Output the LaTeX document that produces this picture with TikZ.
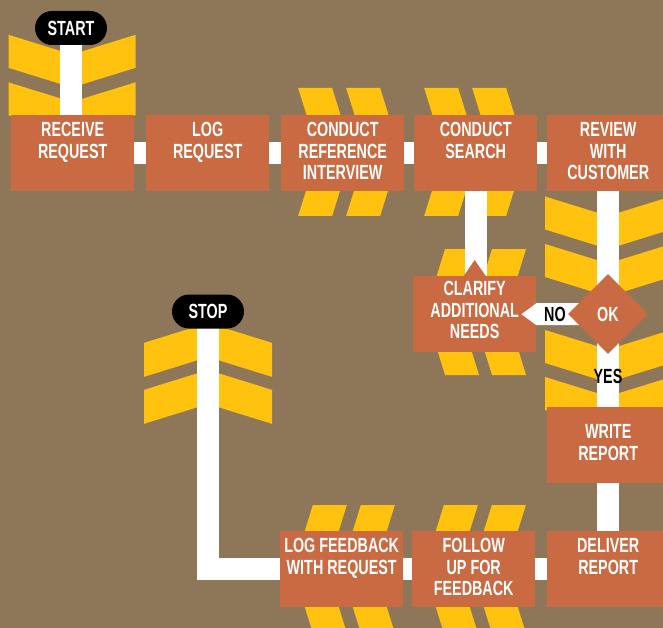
\documentclass[tikz,border=0pt]{standalone}
\usepackage{fontspec}
\newfontfamily\cond{Liberation Sans}[FakeStretch=0.7]
\usetikzlibrary{shapes.geometric}
\definecolor{bgc}{HTML}{8E7759}
\definecolor{boxc}{HTML}{C96A42}
\definecolor{chevc}{HTML}{FEC20F}
\pgfdeclarelayer{chevs}
\pgfdeclarelayer{bars}
\pgfsetlayers{chevs,bars,main}
\newcommand\chevD[3]{\fill[chevc] ({#1-#3},{#2-0.31*#3}) -- (#1,#2) -- ({#1+#3},{#2-0.31*#3}) -- ({#1+#3},{#2-0.31*#3+33}) -- (#1,{#2+33}) -- ({#1-#3},{#2-0.31*#3+33}) -- cycle;}
\newcommand\chevU[3]{\fill[chevc] ({#1-#3},{#2+0.31*#3}) -- (#1,#2) -- ({#1+#3},{#2+0.31*#3}) -- ({#1+#3},{#2+0.31*#3+34}) -- (#1,{#2+34}) -- ({#1-#3},{#2+0.31*#3+34}) -- cycle;}
\newcommand\chevR[3]{\fill[chevc] ({#1-0.31*#3},{#2-#3}) -- (#1,#2) -- ({#1-0.31*#3},{#2+#3}) -- ({#1-0.31*#3+34},{#2+#3}) -- ({#1+34},#2) -- ({#1-0.31*#3+34},{#2-#3}) -- cycle;}
\newcommand\chevL[3]{\fill[chevc] ({#1+0.31*#3},{#2-#3}) -- (#1,#2) -- ({#1+0.31*#3},{#2+#3}) -- ({#1+0.31*#3+34},{#2+#3}) -- ({#1+34},#2) -- ({#1+0.31*#3+34},{#2-#3}) -- cycle;}
\tikzset{
  box/.style={fill=boxc, minimum width=123pt, minimum height=76pt, inner sep=0pt, anchor=north west},
  rbox/.style={box, minimum width=122pt},
  txt/.style={text=white, font=\cond\bfseries\fontsize{20.5}{21.7}\selectfont, align=center, inner sep=0pt, anchor=north},
  lbl/.style={text=black, font=\cond\bfseries\fontsize{20.5}{21.7}\selectfont, inner sep=0pt},
  pill/.style={fill=black, rounded corners=17pt, minimum width=72pt, minimum height=34pt, inner sep=0pt, text=white, font=\cond\bfseries\fontsize{20.5}{21.7}\selectfont},
  bar/.style={white, line width=22pt},
}
\begin{document}
\begin{tikzpicture}[x=1pt,y=-1pt]
\useasboundingbox (0,0) rectangle (663,628);
\clip (0,0) rectangle (663,628);
% nodes
\node[box] (recv) at (11,115) {};
\node[box] (logr) at (146,115) {};
\node[box] (refi) at (281,115) {};
\node[box] (search) at (414,115) {};
\node[rbox] (review) at (547,115) {};
\node[box] (clarify) at (413,276) {};
\node[rbox] (write) at (547,407) {};
\node[box] (logf) at (280,531) {};
\node[box] (follow) at (412,531) {};
\node[rbox] (deliver) at (547,531) {};
\node[diamond, fill=boxc, minimum width=80pt, minimum height=80pt, inner sep=0pt, text=white, font=\cond\bfseries\fontsize{20.5}{21.7}\selectfont] (ok) at (608,314) {OK};
\node[pill] (start) at (71,28) {START};
\node[pill] (stop) at (208,311.5) {STOP};
% texts
\node[txt] (trecv) at ([yshift=-7pt]recv.north) {RECEIVE\\REQUEST};
\node[txt] (tlogr) at ([yshift=-7pt]logr.north) {LOG\\REQUEST};
\node[txt] (trefi) at ([yshift=-7pt]refi.north) {CONDUCT\\REFERENCE\\INTERVIEW};
\node[txt] (tsearch) at ([yshift=-7pt]search.north) {CONDUCT\\SEARCH};
\node[txt] (treview) at ([yshift=-7pt]review.north) {REVIEW\\WITH\\CUSTOMER};
\node[txt] (tclarify) at ([yshift=-5pt]clarify.north) {CLARIFY\\ADDITIONAL\\NEEDS};
\node[txt] (twrite) at ([yshift=-17pt]write.north) {WRITE\\REPORT};
\node[txt] (tlogf) at ([yshift=-7pt]logf.north) {LOG FEEDBACK\\WITH REQUEST};
\node[txt] (tfollow) at ([yshift=-7pt]follow.north) {FOLLOW\\UP FOR\\FEEDBACK};
\node[txt] (tdeliver) at ([yshift=-7pt]deliver.north) {DELIVER\\REPORT};
% arrow tips
\fill[white] ([yshift=11pt]clarify.east) -- ++(-15,11) -- ++(15,11) -- cycle;
\fill[boxc] ([xshift=-11pt]clarify.north) -- ++(11,-16) -- ++(11,16) -- cycle;
\node[lbl] (no) at (555,314) {NO};
\node[lbl] (yes) at (608,376) {YES};
% bars
\begin{pgfonlayer}{bars}
\draw[bar] (start.center) -- (start.center |- recv.center);
\draw[bar] (recv.center) -- (review.center);
\draw[bar] (search.center) -- (search.center |- clarify.north);
\draw[bar] (review.center) -- (deliver.center);
\draw[bar] (ok.center) -- (clarify.center);
\draw[bar] (deliver.center) -- (stop.center |- deliver.center) -- (stop.center);
\end{pgfonlayer}
% chevrons
\begin{pgfonlayer}{chevs}
\fill[bgc] (0,0) rectangle (663,628);
\chevD{72}{54.5}{63.5}
\chevD{72}{102}{63.5}
\chevD{608}{216}{63}
\chevD{608}{263.5}{63}
\chevD{608}{349.5}{63}
\chevD{608}{396.5}{63}
\chevU{208}{323}{64}
\chevU{208}{370}{64}
\chevR{318}{152}{64}
\chevR{366}{152}{64}
\chevR{444}{152}{64}
\chevR{492}{152}{64}
\chevL{425.5}{312}{63}
\chevL{472.5}{312}{63}
\chevL{293}{569}{64}
\chevL{341}{569}{64}
\chevL{424}{569}{64}
\chevL{472}{569}{64}
\end{pgfonlayer}
\end{tikzpicture}
\end{document}
